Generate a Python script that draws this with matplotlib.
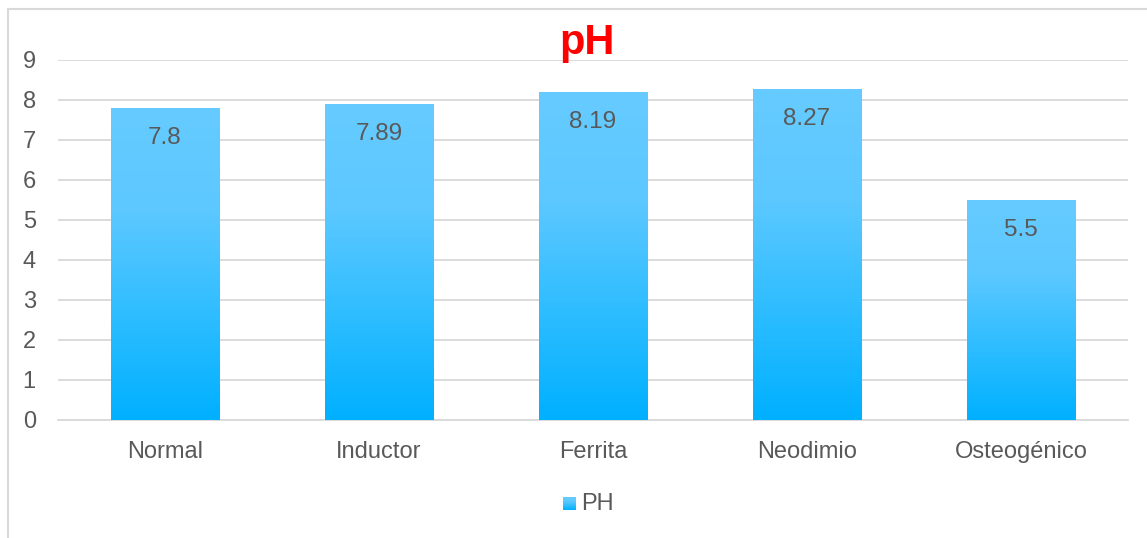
import matplotlib.pyplot as plt
import numpy as np
from matplotlib.colors import LinearSegmentedColormap
from matplotlib.patches import Rectangle

categories = ["Normal", "Inductor", "Ferrita", "Neodimio", "Osteogénico"]
ph_values = [7.8, 7.89, 8.19, 8.27, 5.5]
y_ticks = [0, 1, 2, 3, 4, 5, 6, 7, 8, 9]

text_grey = "#595959"
grid_grey = "#D9D9D9"
bar_cmap = LinearSegmentedColormap.from_list("phblue", ["#00B0FF", "#2EBDFF", "#5CC8FF", "#66CBFF"])

plt.rcParams['font.family'] = ['Liberation Sans', 'DejaVu Sans']


def gradientBars(ax, x, heights, width):
    # plain bars give the shape, an image clipped to each one gives the fill
    bars = ax.bar(x, heights, width=width, color="none", edgecolor="none", zorder=3)
    grad = np.linspace(0, 1, 256).reshape(-1, 1)
    for bar in bars:
        x0 = bar.get_x()
        h = bar.get_height()
        img = ax.imshow(grad, cmap=bar_cmap, origin="lower", aspect="auto",
                        extent=(x0, x0 + bar.get_width(), 0, h), zorder=3)
        img.set_clip_path(bar)
    return bars


def phChart():
    fig = plt.figure(figsize=(11.47, 5.38), dpi=100)
    ax = fig.add_axes([58 / 1147, 118 / 538, 1070 / 1147, 360 / 538])

    x = np.arange(len(categories))
    bars = gradientBars(ax, x, ph_values, 0.505)

    for bar, v in zip(bars, ph_values):
        ax.annotate(f"{v:g}", (bar.get_x() + bar.get_width() / 2, v),
                    xytext=(0, -30), textcoords="offset pixels",
                    ha="center", va="center", fontsize=17.5, color=text_grey, zorder=4)

    ax.set_xlim(-0.5, len(categories) - 0.5)
    ax.set_ylim(0, 9)
    ax.set_yticks(y_ticks)
    ax.set_xticks(x)
    ax.set_xticklabels(categories)
    ax.tick_params(axis="y", length=0, pad=16, labelsize=17, labelcolor=text_grey)
    ax.tick_params(axis="x", length=0, pad=15, labelsize=17, labelcolor=text_grey)
    ax.grid(axis="y", color=grid_grey, linewidth=1.3, zorder=0)
    ax.set_axisbelow(True)
    for side in ["top", "right", "left"]:
        ax.spines[side].set_visible(False)
    ax.spines["bottom"].set_color(grid_grey)
    ax.spines["bottom"].set_linewidth(1.3)

    fig.text(587 / 1147, 1 - 43 / 538, "pH", ha="center", va="center",
             fontsize=30, fontweight="bold", color="#FF0000")

    # legend entry drawn by hand so the swatch keeps the gradient
    leg_ax = fig.add_axes([563 / 1147, 1 - 510 / 538, 13 / 1147, 13 / 538])
    leg_ax.imshow(np.linspace(0, 1, 64).reshape(-1, 1), cmap=bar_cmap,
                  origin="lower", aspect="auto")
    leg_ax.axis("off")
    fig.text(581 / 1147, 1 - 504 / 538, "PH", ha="left", va="center",
             fontsize=17, color=text_grey)

    fig.patches.append(Rectangle((8 / 1147, -0.1), 1.2, 1 - 9 / 538 + 0.1,
                                 transform=fig.transFigure, fill=False,
                                 edgecolor=grid_grey, linewidth=1.5))

    fig.savefig("out.png", dpi=100)


def main():
    phChart()


if __name__ == "__main__":
    main()
